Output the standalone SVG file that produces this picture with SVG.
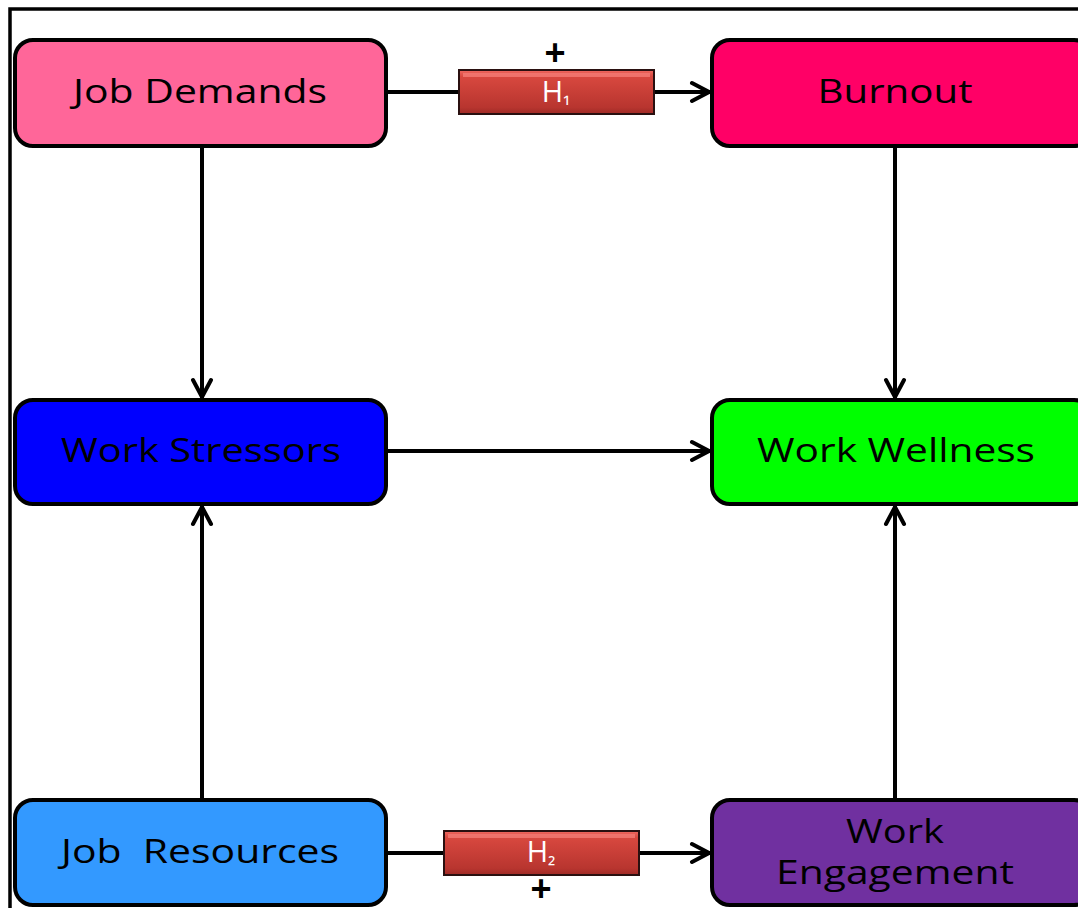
<svg xmlns="http://www.w3.org/2000/svg" width="1078" height="908" viewBox="0 0 1078 908">
  <defs>
    <linearGradient id="hyp" x1="0" y1="0" x2="0" y2="1">
      <stop offset="0" stop-color="#F06A62"/>
      <stop offset="0.15" stop-color="#D8483F"/>
      <stop offset="0.85" stop-color="#B8352F"/>
      <stop offset="1" stop-color="#9E2A26"/>
    </linearGradient>
    <marker id="arrow" viewBox="0 0 26 26" refX="24" refY="13" markerWidth="26" markerHeight="26" markerUnits="userSpaceOnUse" orient="auto">
      <path d="M6,4 L23,13 L6,22" fill="none" stroke="#000" stroke-width="4" stroke-linecap="round" stroke-linejoin="miter"/>
    </marker>
  </defs>
  <style>
    .box { stroke: #000; stroke-width: 4; }
    .lbl { font-family: "Open Sans", "Noto Sans", sans-serif; font-size: 32px; fill: #000; text-anchor: middle; }
    .hyp { font-family: "Open Sans", "Noto Sans", sans-serif; font-size: 29px; fill: #fff; text-anchor: middle; }
    .sign { font-family: "Liberation Sans", sans-serif; font-size: 36px; font-weight: bold; fill: #000; text-anchor: middle; }
    .conn { stroke: #000; stroke-width: 4; fill: none; }
  </style>

  <rect width="1078" height="908" fill="#fff"/>
  <!-- outer frame -->
  <path d="M10,908 L10,9 L1078,9" fill="none" stroke="#000" stroke-width="3.5"/>

  <!-- connectors -->
  <g id="connectors">
    <line class="conn" x1="386" y1="92" x2="460" y2="92"/>
    <line class="conn" x1="654" y1="92" x2="710" y2="92" marker-end="url(#arrow)"/>
    <line class="conn" x1="202" y1="146" x2="202" y2="398" marker-end="url(#arrow)"/>
    <line class="conn" x1="895" y1="146" x2="895" y2="398" marker-end="url(#arrow)"/>
    <line class="conn" x1="386" y1="451" x2="710" y2="451" marker-end="url(#arrow)"/>
    <line class="conn" x1="202" y1="800" x2="202" y2="506" marker-end="url(#arrow)"/>
    <line class="conn" x1="895" y1="800" x2="895" y2="506" marker-end="url(#arrow)"/>
    <line class="conn" x1="386" y1="853" x2="445" y2="853"/>
    <line class="conn" x1="639" y1="853" x2="710" y2="853" marker-end="url(#arrow)"/>
  </g>

  <!-- hypothesis H1 -->
  <g id="h1">
    <rect x="459" y="70" width="195" height="44" fill="url(#hyp)" stroke="#2a1010" stroke-width="2"/>
    <rect x="463" y="73" width="187" height="4" fill="#F47C74" opacity="0.8"/>
    <text class="hyp" x="556" y="102">H<tspan font-size="21">₁</tspan></text>
    <text class="sign" x="555" y="65">+</text>
  </g>

  <!-- hypothesis H2 -->
  <g id="h2">
    <rect x="444" y="831" width="195" height="44" fill="url(#hyp)" stroke="#2a1010" stroke-width="2"/>
    <rect x="448" y="834" width="187" height="4" fill="#F47C74" opacity="0.8"/>
    <text class="hyp" x="541" y="862">H<tspan font-size="21">₂</tspan></text>
    <text class="sign" x="541" y="901" font-size="31">+</text>
  </g>

  <g id="job-demands">
    <rect class="box" x="15" y="40" width="371" height="106" rx="18" fill="#FF6699"/>
    <text class="lbl" x="200" y="103" textLength="254" lengthAdjust="spacingAndGlyphs">Job Demands</text>
  </g>

  <g id="burnout">
    <rect class="box" x="712" y="40" width="380" height="106" rx="18" fill="#FF0066"/>
    <text class="lbl" x="895" y="103" textLength="155" lengthAdjust="spacingAndGlyphs">Burnout</text>
  </g>

  <g id="work-stressors">
    <rect class="box" x="15" y="400" width="371" height="104" rx="18" fill="#0000FF"/>
    <text class="lbl" x="201" y="462" textLength="280" lengthAdjust="spacingAndGlyphs">Work Stressors</text>
  </g>

  <g id="work-wellness">
    <rect class="box" x="712" y="400" width="380" height="104" rx="18" fill="#00FF00"/>
    <text class="lbl" x="896" y="462" textLength="278" lengthAdjust="spacingAndGlyphs">Work Wellness</text>
  </g>

  <g id="job-resources">
    <rect class="box" x="15" y="800" width="371" height="105" rx="18" fill="#3399FF"/>
    <text class="lbl" x="200" y="863" textLength="278" lengthAdjust="spacingAndGlyphs" xml:space="preserve">Job  Resources</text>
  </g>

  <g id="work-engagement">
    <rect class="box" x="712" y="800" width="380" height="105" rx="18" fill="#7030A0"/>
    <text class="lbl" x="895" y="843" textLength="98" lengthAdjust="spacingAndGlyphs">Work</text>
    <text class="lbl" x="895" y="884" textLength="238" lengthAdjust="spacingAndGlyphs">Engagement</text>
  </g>
</svg>
